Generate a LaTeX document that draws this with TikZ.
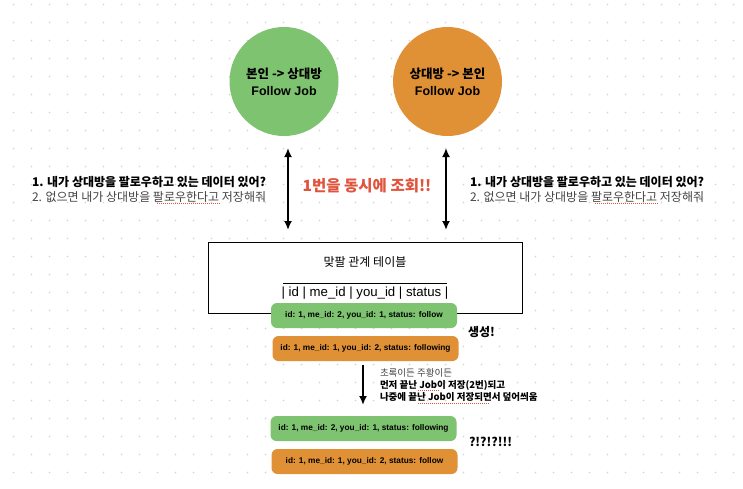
\documentclass[tikz,border=0pt]{standalone}
\usepackage{fontspec}
\setmainfont{Noto Sans CJK KR}
\newfontfamily\latinfont{Liberation Sans}
\usetikzlibrary{arrows.meta,positioning}
\definecolor{jobGreen}{HTML}{7DC370}
\definecolor{jobOrange}{HTML}{E09136}
\definecolor{alertRed}{HTML}{E0533D}
\definecolor{gridDot}{HTML}{D2D2D2}
\definecolor{noteGrey}{HTML}{444444}
\tikzset{%
  >={Latex[width=8pt,length=9pt]},
  % Specifications for style of nodes:
        job/.style = {circle, minimum size=109pt, inner sep=0pt, align=center,
                      font=\fontsize{12.5}{17}\selectfont\bfseries},
   greenJob/.style = {job, fill=jobGreen},
  orangeJob/.style = {job, fill=jobOrange},
     rowBox/.style = {rectangle, rounded corners=6pt, minimum width=186pt,
                      minimum height=25pt, inner sep=0pt,
                      font=\latinfont\fontsize{8.3}{10}\selectfont\bfseries},
   greenRow/.style = {rowBox, fill=jobGreen},
  orangeRow/.style = {rowBox, fill=jobOrange},
   question/.style = {anchor=west, align=left, inner sep=0pt,
                      font=\fontsize{12}{15}\selectfont},
     remark/.style = {anchor=west, inner sep=0pt,
                      font=\fontsize{12}{14}\selectfont\bfseries},
   spelling/.style = {alertRed, line width=0.8pt, dash pattern=on 1pt off 1pt},
}
\begin{document}
\begin{tikzpicture}[x=1pt, y=-1pt, line width=2pt]
  \useasboundingbox (0,0) rectangle (743,488);
  \fill[white] (0,0) rectangle (743,488);
  % dotted canvas
  \foreach \i in {0,...,41}
    \foreach \j in {0,...,27}
      \fill[gridDot] (13.5+18*\i, 4.5+18*\j) circle (0.8pt);
  % the two follow jobs
  \node (meJob) [greenJob] at (284,81.5) {본인 -> 상대방\\{\latinfont Follow Job}};
  \node (youJob) [orangeJob] at (447.5,81.5) {상대방 -> 본인\\{\latinfont Follow Job}};
  % mutual follow table
  \node (table) [draw=black, line width=0.8pt, fill=white, minimum width=314pt,
    minimum height=71pt, inner sep=0pt] at (365,277.5) {};
  \node (tableTitle) [font=\fontsize{12}{14}\selectfont, inner sep=0pt] at (365,262) {맞팔 관계 테이블};
  \node (tableHead) [font=\latinfont\fontsize{13.2}{16}\selectfont, inner sep=0pt] at (365,293) {| id | me\_id | you\_id | status |};
  \coordinate (ruleL) at (283,283);
  \coordinate (ruleR) at (447,283);
  \draw[line width=0.9pt] (ruleL) -- (ruleR);
  % rows written by the jobs
  \node (rowA) [greenRow] at (364,315.5) {id: 1, me\_id: 2, you\_id: 1, status: follow};
  \node (rowB) [orangeRow, below=6pt of rowA, xshift=1.5pt] {id: 1, me\_id: 1, you\_id: 2, status: following};
  \node (rowC) [greenRow] at (363.5,428.5) {id: 1, me\_id: 2, you\_id: 1, status: following};
  \node (rowD) [orangeRow, below=6pt of rowC, xshift=1pt] {id: 1, me\_id: 1, you\_id: 2, status: follow};
  % questions asked by each job
  \node (meAsk) [question] at (31,189.5) {\textbf{1. 내가 상대방을 팔로우하고 있는 데이터 있어?}\\
    \textcolor{noteGrey}{2. 없으면 내가 상대방을 팔로우한다고 저장해줘}};
  \node (youAsk) [question] at (469,189.5) {\textbf{1. 내가 상대방을 팔로우하고 있는 데이터 있어?}\\
    \textcolor{noteGrey}{2. 없으면 내가 상대방을 팔로우한다고 저장해줘}};
  \node (together) [font=\fontsize{15.5}{18}\selectfont\bfseries, text=alertRed, inner sep=0pt] at (367,186) {1번을 동시에 조회!!};
  % arrows between jobs and table
  \coordinate (meTop) at (288,148);
  \coordinate (meBot) at (288,230);
  \coordinate (youTop) at (446,148);
  \coordinate (youBot) at (446,230);
  \draw[<->] (meTop) -- (meBot);
  \draw[<->] (youTop) -- (youBot);
  % overwrite step
  \coordinate (stepTop) at (363,365);
  \coordinate (stepBot) at (363,405);
  \draw[->] (stepTop) -- (stepBot);
  \node (overwrite) [anchor=west, align=left, inner sep=0pt, font=\fontsize{9.5}{12}\selectfont] at (379,385)
    {\textcolor{noteGrey}{초록이든 주황이든}\\
     \textbf{먼저 끝난 Job이 저장(2번)되고}\\
     \textbf{나중에 끝난 Job이 저장되면서 덮어씌움}};
  \node (created) [remark] at (467,332) {생성!};
  \node (confused) [remark] at (468,442) {?!?!?!!!};
  % spell-check marks
  \draw[spelling] (157,203) -- (220,203);
  \draw[spelling] (595,203) -- (658,203);
  \draw[spelling] (418,390.5) -- (440,390.5);
  \draw[spelling] (418,403) -- (490,403);
\end{tikzpicture}
\end{document}
